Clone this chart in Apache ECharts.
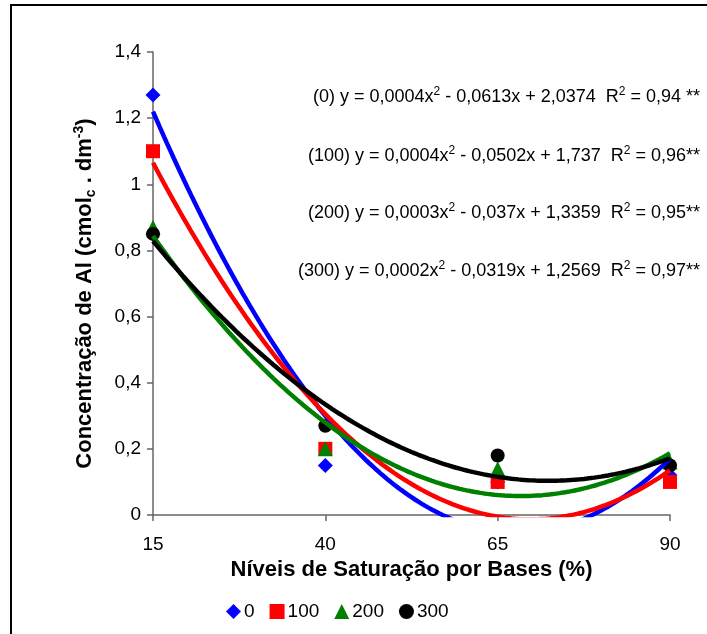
<!DOCTYPE html>
<html><head><meta charset="utf-8">
<script src="https://cdn.jsdelivr.net/npm/echarts@6/dist/echarts.min.js"></script>
<style>html,body{margin:0;padding:0;background:#fff}#c{width:707px;height:634px}</style>
</head><body><div id="c"></div>
<script>
// ---- data ----
const xLevels = [15, 40, 65, 90];
const xTickLabels = ['15', '40', '65', '90'];
const yTickValues = [0, 0.2, 0.4, 0.6, 0.8, 1, 1.2, 1.4];
const seriesNames = ['0', '100', '200', '300'];
const y0 = [1.27, 0.15, 0.10, 0.12];
const y100 = [1.10, 0.20, 0.10, 0.10];
const y200 = [0.87, 0.20, 0.14, 0.16];
const y300 = [0.85, 0.27, 0.18, 0.15];
const equations = [
  ['(0) y = 0,0004x', ' - 0,0613x + 2,0374  R', ' = 0,94 **'],
  ['(100) y = 0,0004x', ' - 0,0502x + 1,737  R', ' = 0,96**'],
  ['(200) y = 0,0003x', ' - 0,037x + 1,3359  R', ' = 0,95**'],
  ['(300) y = 0,0002x', ' - 0,0319x + 1,2569  R', ' = 0,97**']
];
// ---- styles ----
const colors = ['#0000FF', '#FF0000', '#008000', '#000000'];
const symbols = ['diamond', 'rect', 'triangle', 'circle'];
const symSizes = [15, 14, 15, 14];
const eqY = [97, 156, 213, 271];
const FONT = 'Liberation Sans, Arial, sans-serif';

// least-squares quadratic fit (trendline, like the original)
function quadFit(xs, ys) {
  let S = [0,0,0,0,0], T = [0,0,0];
  xs.forEach((x, i) => {
    for (let k = 0; k < 5; k++) S[k] += Math.pow(x, k);
    for (let k = 0; k < 3; k++) T[k] += ys[i] * Math.pow(x, k);
  });
  const A = [[S[0],S[1],S[2],T[0]],[S[1],S[2],S[3],T[1]],[S[2],S[3],S[4],T[2]]];
  for (let i = 0; i < 3; i++) {
    for (let j = i + 1; j < 3; j++) {
      const f = A[j][i] / A[i][i];
      for (let k = i; k < 4; k++) A[j][k] -= f * A[i][k];
    }
  }
  const c = [0,0,0];
  for (let i = 2; i >= 0; i--) {
    let s = A[i][3];
    for (let k = i + 1; k < 3; k++) s -= A[i][k] * c[k];
    c[i] = s / A[i][i];
  }
  return c;
}
function trend(ys) {
  const c = quadFit(xLevels, ys);
  const pts = [];
  for (let x = xLevels[0]; x <= xLevels[xLevels.length - 1] + 1e-9; x += 0.5) {
    pts.push([x, c[0] + c[1] * x + c[2] * x * x]);
  }
  return pts;
}

const allY = [y0, y100, y200, y300];
const series = [];
allY.forEach((ys, i) => {
  series.push({
    name: seriesNames[i], type: 'scatter', z: 2,
    symbol: symbols[i], symbolSize: symSizes[i],
    itemStyle: { color: colors[i], opacity: 1 },
    data: xLevels.map((x, j) => [x, ys[j]])
  });
});
allY.forEach((ys, i) => {
  series.push({
    name: 'trend ' + seriesNames[i], type: 'line', z: 3,
    showSymbol: false, smooth: false, clip: true,
    lineStyle: { color: colors[i], width: 4.5 },
    data: trend(ys), silent: true
  });
});

const graphics = [
  { type: 'rect', shape: { x: 11, y: 5, width: 720, height: 700 },
    style: { fill: 'none', stroke: '#000', lineWidth: 2 }, silent: true }
];
equations.forEach((e, i) => {
  graphics.push({
    type: 'text', x: 700, y: eqY[i],
    style: {
      text: '{n|' + e[0] + '}{s|2}{n|' + e[1] + '}{s|2}{n|' + e[2] + '}',
      align: 'right', verticalAlign: 'middle',
      rich: {
        n: { fontSize: 18, fontFamily: FONT, fill: '#000', lineHeight: 22 },
        s: { fontSize: 12, fontFamily: FONT, fill: '#000', verticalAlign: 'top', lineHeight: 22 }
      }
    }
  });
});

const chart = echarts.init(document.getElementById('c'), null, { renderer: 'canvas' });
chart.setOption({
  animation: false,
  backgroundColor: '#fff',
  grid: { left: 153, right: 37, top: 52, bottom: 119, containLabel: false },
  legend: {
    data: seriesNames.map((n, i) => ({ name: n, icon: symbols[i] })),
    left: 221, top: 597, itemWidth: 15, itemHeight: 15, itemGap: 15,
    textStyle: { fontSize: 19, fontFamily: FONT, color: '#000', padding: [0, 0, 0, -2] }
  },
  xAxis: {
    type: 'value', min: 15, max: 90,
    name: 'Níveis de Saturação por Bases (%)', nameLocation: 'middle', nameGap: 44,
    nameTextStyle: { fontSize: 22, fontWeight: 'bold', fontFamily: FONT, color: '#000' },
    axisLine: { show: true, onZero: false, lineStyle: { color: '#666', width: 1.5 } },
    axisTick: { show: true, inside: false, length: 6, customValues: xLevels, lineStyle: { color: '#666', width: 1.5 } },
    axisLabel: { customValues: xLevels, formatter: v => xTickLabels[xLevels.indexOf(v)] || '', fontSize: 19, fontFamily: FONT, color: '#000', margin: 20 },
    splitLine: { show: false }
  },
  yAxis: {
    type: 'value', min: 0, max: 1.4, interval: 0.2,
    name: '{b|Concentração de Al (cmol}{sub|c}{b| . dm}{sup|-3}{b|)}',
    nameLocation: 'middle', nameGap: 55, nameRotate: 90,
    nameTextStyle: {
      padding: [0, 20, 0, 0],
      rich: {
        b: { fontSize: 22, fontWeight: 'bold', fontFamily: FONT, color: '#000', lineHeight: 26 },
        sub: { fontSize: 14, fontWeight: 'bold', fontFamily: FONT, color: '#000', verticalAlign: 'bottom', lineHeight: 26 },
        sup: { fontSize: 14, fontWeight: 'bold', fontFamily: FONT, color: '#000', verticalAlign: 'top', lineHeight: 26 }
      }
    },
    axisLine: { show: true, lineStyle: { color: '#666', width: 1.5 } },
    axisTick: { show: true, inside: false, length: 6, lineStyle: { color: '#666', width: 1.5 } },
    axisLabel: { formatter: v => String(Math.round(v * 10) / 10).replace('.', ','), fontSize: 19, fontFamily: FONT, color: '#000', margin: 12 },
    splitLine: { show: false }
  },
  graphic: graphics,
  series: series
});
</script></body></html>
